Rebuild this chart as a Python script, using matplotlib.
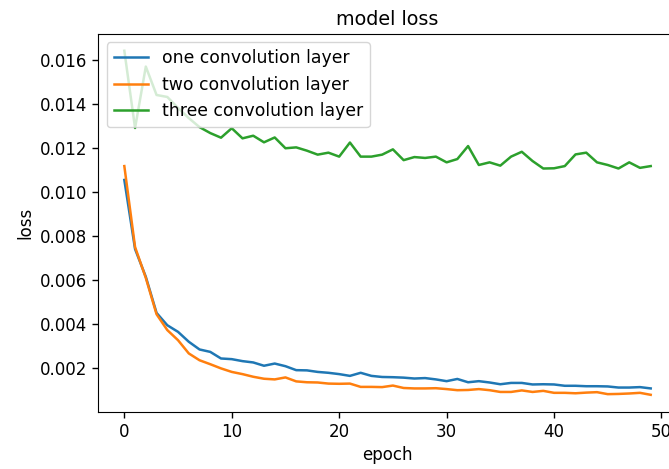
import matplotlib
matplotlib.use("Agg")
import matplotlib.pyplot as plt
import numpy as np

# loss per epoch for each model
one_layer = [0.01055, 0.00741, 0.00615, 0.00451, 0.00395, 0.00365, 0.00320, 0.00285, 0.00274, 0.00244,
             0.00241, 0.00232, 0.00226, 0.00211, 0.00221, 0.00209, 0.00191, 0.00190, 0.00183, 0.00179,
             0.00173, 0.00165, 0.00179, 0.00165, 0.00160, 0.00159, 0.00157, 0.00153, 0.00155, 0.00149,
             0.00141, 0.00151, 0.00136, 0.00141, 0.00135, 0.00127, 0.00133, 0.00133, 0.00126, 0.00127,
             0.00126, 0.00120, 0.00120, 0.00118, 0.00118, 0.00117, 0.00112, 0.00112, 0.00114, 0.00108]

two_layer = [0.01118, 0.00750, 0.00610, 0.00445, 0.00373, 0.00327, 0.00267, 0.00236, 0.00218, 0.00199,
             0.00183, 0.00173, 0.00161, 0.00152, 0.00149, 0.00158, 0.00140, 0.00136, 0.00135, 0.00130,
             0.00129, 0.00130, 0.00115, 0.00115, 0.00114, 0.00121, 0.00110, 0.00108, 0.00108, 0.00109,
             0.00105, 0.00100, 0.00101, 0.00105, 0.00100, 0.00092, 0.00092, 0.00099, 0.00092, 0.00097,
             0.00088, 0.00088, 0.00086, 0.00089, 0.00091, 0.00082, 0.00083, 0.00085, 0.00088, 0.00079]

three_layer = [0.01642, 0.01291, 0.01570, 0.01441, 0.01432, 0.01382, 0.01336, 0.01295, 0.01268, 0.01247,
               0.01290, 0.01244, 0.01256, 0.01226, 0.01248, 0.01199, 0.01203, 0.01188, 0.01170, 0.01179,
               0.01161, 0.01225, 0.01161, 0.01161, 0.01170, 0.01194, 0.01145, 0.01159, 0.01155, 0.01161,
               0.01135, 0.01150, 0.01209, 0.01123, 0.01135, 0.01120, 0.01161, 0.01183, 0.01141, 0.01107,
               0.01108, 0.01118, 0.01171, 0.01179, 0.01135, 0.01123, 0.01107, 0.01135, 0.01110, 0.01118]

labels = ['one convolution layer', 'two convolution layer', 'three convolution layer']

plt.rcParams['font.size'] = 12

fig = plt.figure(figsize=(6.69, 4.69), dpi=100)
ax = fig.add_axes([0.1465, 0.1215, 0.8655, 0.807])

epochs = np.arange(len(one_layer))
ax.plot(epochs, one_layer, lw=1.8, label=labels[0])
ax.plot(epochs, two_layer, lw=1.8, label=labels[1])
ax.plot(epochs, three_layer, lw=1.8, label=labels[2])

ax.set_title('model loss', fontsize=13.8)
ax.set_ylabel('loss')
ax.set_xlabel('epoch')
ax.set_yticks([0.002, 0.004, 0.006, 0.008, 0.010, 0.012, 0.014, 0.016])
ax.tick_params(length=4.2, width=1)
ax.legend(loc='upper left', fontsize=12.4)

fig.savefig('out.png', dpi=100)
